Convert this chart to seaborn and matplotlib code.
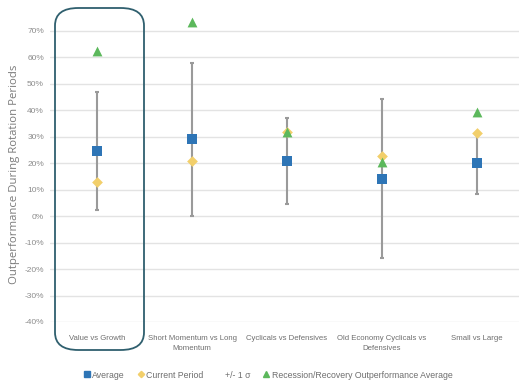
import matplotlib
matplotlib.use("Agg")
import matplotlib.pyplot as plt
from matplotlib.lines import Line2D
from matplotlib.patches import FancyBboxPatch
import seaborn as sns
import pandas as pd

categories = ["Value vs Growth", "Short Momentum vs Long\nMomentum", "Cyclicals vs Defensives",
              "Old Economy Cyclicals vs\nDefensives", "Small vs Large"]
average = [24.7, 29.0, 20.8, 14.2, 20.0]
current_period = [12.9, 20.7, 31.7, 22.7, 31.6]
one_sigma = [22.3, 29.0, 16.3, 30.0, 11.8]
recession_avg = [62.6, 73.5, 31.8, 20.5, 39.2]
yticks = list(range(-40, 80, 10))

sns.set_style("white")
plt.rcParams["font.family"] = ["Liberation Sans", "DejaVu Sans"]

df = pd.DataFrame({
    "pos": range(len(categories)),
    "average": average,
    "current": current_period,
    "sigma": one_sigma,
    "recession": recession_avg,
})

fig = plt.figure(figsize=(5.19, 3.9), dpi=100)
ax = fig.add_axes([49.5 / 519, 68 / 390, 475 / 519, 317.5 / 390])

for y in yticks:
    ax.axhline(y, color="#e3e3e3", lw=1, zorder=0)

ax.errorbar(df["pos"], df["average"], yerr=df["sigma"], fmt="none", ecolor="#9a9a9a",
            elinewidth=1.5, capsize=1.5, capthick=1.5, zorder=1)
sns.scatterplot(data=df, x="pos", y="average", marker="s", s=55, color="#2e75b6",
                edgecolor="#2e75b6", linewidth=0, ax=ax, zorder=3)
sns.scatterplot(data=df, x="pos", y="current", marker="D", s=30, color="#f2cf6b",
                linewidth=0, ax=ax, zorder=4)
sns.scatterplot(data=df, x="pos", y="recession", marker="^", s=50, color="#5cb85c",
                linewidth=0, ax=ax, zorder=5)

ax.set_xlim(-0.5, len(categories) - 0.5)
ax.set_ylim(-40, 80)
ax.set_yticks(yticks)
ax.set_yticklabels([f"{v}%" for v in yticks], color="#8c8c8c", fontsize=6)
ax.set_xticks(df["pos"])
ax.set_xticklabels(categories, color="#6e6e6e", fontsize=5.6, linespacing=1.6)
ax.tick_params(axis="both", length=0, pad=4)
ax.tick_params(axis="x", pad=9)
ax.set_xlabel("")
ax.set_ylabel("Outperformance During Rotation Periods", color="#7a7a7a", fontsize=8.2,
              family=["Open Sans", "DejaVu Sans"])
ax.yaxis.set_label_coords(-0.062, 0.465)
for s in ax.spines.values():
    s.set_visible(False)

box = FancyBboxPatch((55 / 519, 40 / 390), 89 / 519, 342 / 390,
                     boxstyle="round,pad=0,rounding_size=0.045", transform=fig.transFigure,
                     fill=False, edgecolor="#2f5f6e", lw=1.3, zorder=10)
fig.patches.append(box)

handles = [
    Line2D([], [], marker="s", ls="none", color="#2e75b6", markersize=4.5),
    Line2D([], [], marker="D", ls="none", color="#f2cf6b", markersize=3.2),
    Line2D([], [], ls="none"),
    Line2D([], [], marker="^", ls="none", color="#5cb85c", markersize=4.2),
]
labels = ["Average", "Current Period", "+/- 1 σ", "Recession/Recovery Outperformance Average"]
leg = fig.legend(handles, labels, loc="center", bbox_to_anchor=(268 / 519, 1 - 375 / 390),
                 ncol=4, frameon=False, fontsize=6.3, handletextpad=0.25, columnspacing=1.4,
                 handlelength=0.8)
for t in leg.get_texts():
    t.set_color("#6e6e6e")

fig.savefig("out.png", dpi=100)
